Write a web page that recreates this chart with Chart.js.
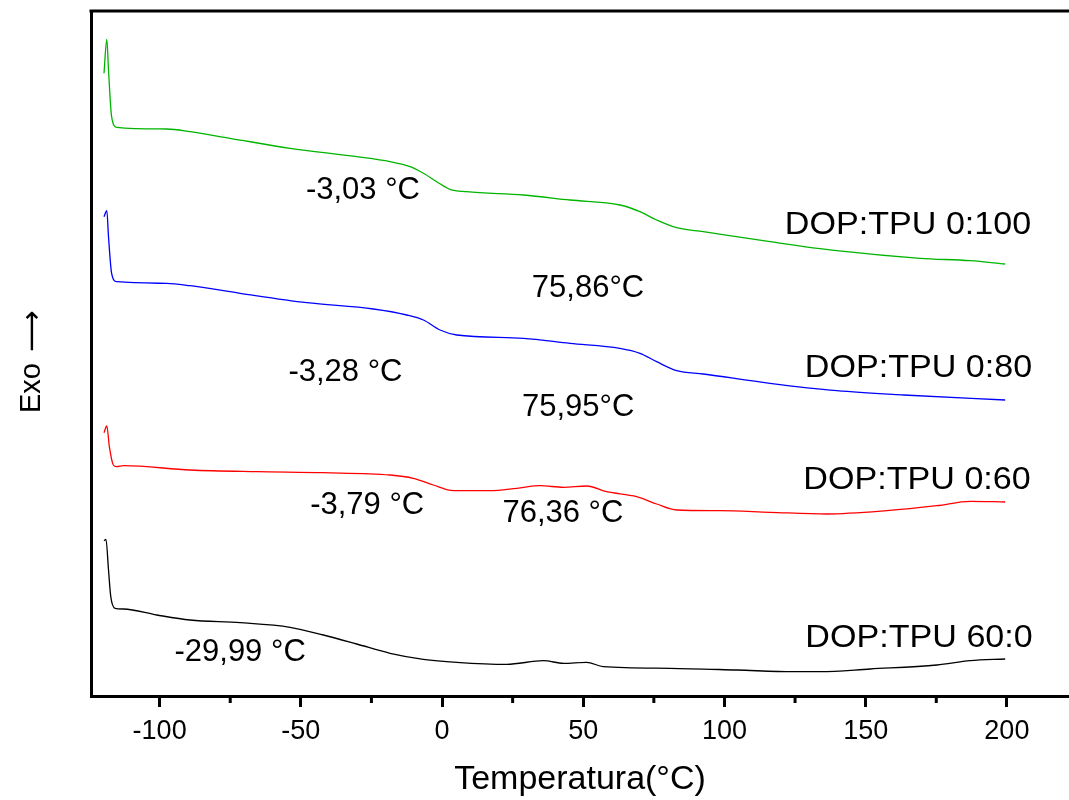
<!DOCTYPE html>
<html>
<head>
<meta charset="utf-8">
<script src="https://cdn.jsdelivr.net/npm/chart.js@4.4.1/dist/chart.umd.min.js"></script>
<style>
  html, body { margin: 0; padding: 0; background: #fff; overflow: hidden; }
  #wrap { width: 1069px; height: 800px; }
</style>
</head>
<body>
<div id="wrap"><canvas id="c" width="1069" height="800"></canvas></div>
<script>
// ---- Data (temperature in °C, heat-flow signal in arbitrary units, offset per curve) ----
const tempGreen = [-119.7,-118.7,-118.1,-117.0,-115.2,-97.5,-89.2,-75.1,-53.8,-30.2,-18.4,-11.3,-6.6,-1.9,2.8,8.7,28.8,45.3,63.0,70.1,76.0,83.1,92.5,116.1,139.8,169.3,187.0,199.4];
const flowGreen = [622.7,656.7,626,579.3,568.7,567,564.3,557.7,547.7,539.3,534.3,529.3,522.7,514.3,506.7,504.3,501,496,491,484.3,476,468.3,464.3,454.3,445.3,437.7,435.3,432];

const tempBlue = [-119.7,-118.7,-118.1,-117.0,-115.2,-97.5,-89.2,-71.5,-47.9,-24.3,-12.5,-6.6,-0.7,5.2,28.8,45.3,63.0,70.1,76.0,83.1,92.5,116.1,139.8,163.4,199.4];
const flowBlue = [479.3,485.3,459.3,422.7,414.3,412.7,410.3,402.7,393.3,387,381,376,366,361,357.7,352.7,347.7,342.7,334.3,325.3,322,312.7,305.3,301,296];

const tempRed = [-119.7,-118.7,-117.8,-116.4,-115.2,-112.8,-89.2,-65.6,-42.0,-18.4,-10.2,-3.1,4.0,17.0,26.5,34.7,43.0,51.2,58.3,68.9,76.0,83.1,98.4,116.1,136.2,157.5,175.2,187.0,199.4];
const flowRed = [263.3,270,249.3,231,229.3,230.3,226,224.3,223.3,221,217.7,211,205.3,205.3,207.7,210.3,208.7,210,204.3,199.3,192,186,185.3,183.7,182,185.3,190.3,194.7,194];

const tempBlack = [-119.7,-119.0,-118.1,-117.3,-115.8,-112.8,-101.0,-89.2,-71.5,-53.8,-42.0,-30.2,-18.4,-6.6,5.2,22.9,35.9,43.0,51.2,57.1,80.7,104.3,124.4,133.9,151.6,175.2,187.0,199.4];
const flowBlack = [155.3,156.7,126,99.3,87.7,87,81,76,73.3,68.7,61,52,42.7,36.7,33.7,31.7,35.3,32.7,33.7,29.3,27.7,26,24.3,24.3,27,31,35.3,37];

const seriesNames = ["DOP:TPU 0:100", "DOP:TPU 0:80", "DOP:TPU 0:60", "DOP:TPU 60:0"];

// tick labels
const majorTicks = [-100, -50, 0, 50, 100, 150, 200];
const minorTicks = [-75, -25, 25, 75, 125, 175];

// temperature annotations (text, temperature, signal)
const annoText = ["-3,03 °C", "75,86°C", "-3,28 °C", "75,95°C", "-3,79 °C", "76,36 °C", "-29,99 °C"];
const annoX = [-28, 51.7, -34.2, 48.2, -26.5, 42.8, -71.5];
const annoY = [506, 408, 324, 289, 191, 183, 44];

// curve labels positions (temperature, signal)
const labelX = [165, 168.7, 168.2, 168.9];
const labelY = [471, 328, 216, 58];

const yTitle = "Exo";
const yArrow = "⟶";

// ---- Build ----
function pts(xs, ys) { return xs.map((x, i) => ({ x: x, y: ys[i] })); }

const FONT = '"Liberation Sans", Arial, "DejaVu Sans", sans-serif';

const framePlugin = {
  id: 'frame',
  afterDraw(chart) {
    const ctx = chart.ctx;
    const ca = chart.chartArea;
    const xs = chart.scales.x;
    const ys = chart.scales.y;
    ctx.save();
    ctx.strokeStyle = '#000';
    ctx.lineWidth = 3;
    // top border
    ctx.beginPath();
    ctx.moveTo(ca.left - 1.5, ca.top);
    ctx.lineTo(ca.right, ca.top);
    ctx.stroke();
    // minor ticks
    minorTicks.forEach(v => {
      const px = xs.getPixelForValue(v);
      ctx.beginPath();
      ctx.moveTo(px, ca.bottom);
      ctx.lineTo(px, ca.bottom + 7);
      ctx.stroke();
    });
    // temperature annotations
    ctx.fillStyle = '#000';
    ctx.font = '31px ' + FONT;
    ctx.textAlign = 'center';
    ctx.textBaseline = 'middle';
    annoText.forEach((t, i) => {
      ctx.fillText(t, xs.getPixelForValue(annoX[i]), ys.getPixelForValue(annoY[i]));
    });
    // curve labels (slightly wider lettering)
    seriesNames.forEach((t, i) => {
      const px = xs.getPixelForValue(labelX[i]);
      const py = ys.getPixelForValue(labelY[i]);
      ctx.save();
      ctx.translate(px, py);
      ctx.scale(1.1, 1);
      ctx.fillText(t, 0, 0);
      ctx.restore();
    });
    // y title: "Exo" + arrow, rotated
    ctx.save();
    ctx.translate(32, 0);
    ctx.rotate(-Math.PI / 2);
    ctx.font = '29px ' + FONT;
    ctx.textAlign = 'center';
    ctx.textBaseline = 'middle';
    ctx.fillText(yTitle, -388, 0);
    ctx.font = '29px "DejaVu Sans", sans-serif';
    ctx.fillText(yArrow, -331, 1);
    ctx.restore();
    ctx.restore();
  }
};

const common = { pointRadius: 0, borderWidth: 1.3, fill: false, cubicInterpolationMode: 'monotone' };

new Chart(document.getElementById('c'), {
  type: 'line',
  data: {
    datasets: [
      Object.assign({ label: seriesNames[0], data: pts(tempGreen, flowGreen), borderColor: '#00b400' }, common),
      Object.assign({ label: seriesNames[1], data: pts(tempBlue, flowBlue), borderColor: '#0000ff' }, common),
      Object.assign({ label: seriesNames[2], data: pts(tempRed, flowRed), borderColor: '#ff0000' }, common),
      Object.assign({ label: seriesNames[3], data: pts(tempBlack, flowBlack), borderColor: '#000000' }, common)
    ]
  },
  options: {
    responsive: false,
    animation: false,
    events: [],
    layout: { padding: { top: 11, right: 0, left: 0, bottom: 0 } },
    plugins: { legend: { display: false }, tooltip: { enabled: false } },
    scales: {
      x: {
        type: 'linear',
        min: -124.3,
        max: 222.0,
        afterBuildTicks: (s) => { s.ticks = majorTicks.map(v => ({ value: v })); },
        afterFit: (s) => { s.height = 104; },
        border: { display: true, color: '#000', width: 3 },
        grid: { drawOnChartArea: false, drawTicks: true, tickLength: 11, tickWidth: 3, tickColor: '#000' },
        ticks: { color: '#000', font: { family: FONT, size: 27 }, padding: 8, maxRotation: 0, autoSkip: false,
                 callback: (v) => String(v) },
        title: { display: true, text: 'Temperatura(°C)', color: '#000', font: { family: FONT, size: 34 },
                 padding: { top: 0, bottom: 0 } }
      },
      y: {
        type: 'linear',
        min: 0,
        max: 685,
        afterFit: (s) => { s.width = 91; },
        border: { display: true, color: '#000', width: 3 },
        grid: { drawOnChartArea: false, drawTicks: false },
        ticks: { display: false },
        title: { display: false }
      }
    }
  },
  plugins: [framePlugin]
});
</script>
</body>
</html>
